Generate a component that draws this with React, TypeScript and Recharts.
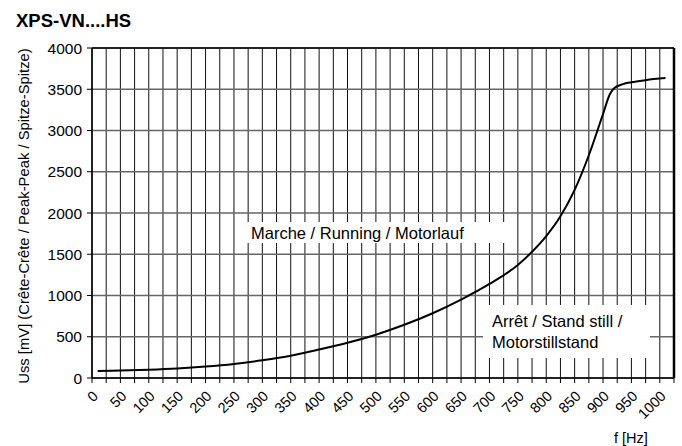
import React from 'react'
import { LineChart, Line, XAxis, YAxis, CartesianGrid, ReferenceLine } from 'recharts'

// frequency [Hz] and peak-peak voltage [mV]
const freq = [10, 50, 100, 150, 200, 250, 300, 350, 400, 450, 500, 550, 600, 650, 700, 750, 775, 800, 825, 850, 875, 900, 912, 920, 935, 950, 975, 1010]
const uss = [85, 90, 100, 115, 138, 170, 215, 270, 345, 428, 525, 645, 785, 950, 1140, 1370, 1530, 1720, 1960, 2280, 2700, 3200, 3440, 3515, 3562, 3585, 3610, 3635]

const xTicks = [
  0, 25, 50, 75, 100, 125, 150, 175, 200, 225, 250, 275, 300, 325, 350, 375, 400, 425, 450, 475, 500,
  525, 550, 575, 600, 625, 650, 675, 700, 725, 750, 775, 800, 825, 850, 875, 900, 925, 950, 975, 1000, 1025,
]
const xLabels = [0, 50, 100, 150, 200, 250, 300, 350, 400, 450, 500, 550, 600, 650, 700, 750, 800, 850, 900, 950, 1000]
const yTicks = [0, 500, 1000, 1500, 2000, 2500, 3000, 3500, 4000]

const data = freq.map((f, i) => ({ f, uss: uss[i] }))

const font = '"Liberation Sans", Arial, Helvetica, sans-serif'

function XTick(props: any) {
  const { x, y, payload } = props
  if (!xLabels.includes(payload.value)) return <g />
  const ax = x + 7
  const ay = y + 12
  return (
    <text x={ax} y={ay} textAnchor="end" transform={`rotate(-45 ${ax} ${ay})`} fontSize={14.5} fill="#000" fontFamily={font}>
      {payload.value}
    </text>
  )
}

export default function App() {
  return (
    <div style={{ position: 'absolute', left: 0, top: 0, width: 682, height: 446, background: '#fff', fontFamily: font }}>
      <LineChart width={682} height={446} data={data} margin={{ top: 48, right: 8, left: 0, bottom: 0 }}>
        <CartesianGrid horizontal={false} stroke="#111" strokeWidth={1} />
        <CartesianGrid vertical={false} stroke="#666" strokeWidth={1.5} />
        <XAxis
          dataKey="f"
          type="number"
          domain={[0, 1025]}
          ticks={xTicks}
          interval={0}
          height={68}
          tick={<XTick />}
          tickSize={5}
          tickLine={{ stroke: '#000' }}
          axisLine={{ stroke: '#000', strokeWidth: 1.5 }}
        />
        <YAxis
          type="number"
          domain={[0, 4000]}
          ticks={yTicks}
          interval={0}
          width={92}
          tickSize={5}
          tickMargin={5}
          tick={{ fill: '#000', fontSize: 15.5, fontFamily: font }}
          tickLine={{ stroke: '#000' }}
          axisLine={{ stroke: '#000', strokeWidth: 1.5 }}
        />
        <ReferenceLine y={4000} stroke="#000" strokeWidth={1.5} />
        <ReferenceLine x={1025} stroke="#000" strokeWidth={2.5} />
        <Line type="monotone" dataKey="uss" stroke="#000" strokeWidth={2} dot={false} isAnimationActive={false} />
      </LineChart>
      <svg width={682} height={446} style={{ position: 'absolute', left: 0, top: 0, pointerEvents: 'none' }} fontFamily={font}>
        <text x={16} y={27} fontSize={18.5} fontWeight="bold" fill="#000">XPS-VN....HS</text>
        <text x={24} y={216} fontSize={14.8} fill="#000" textAnchor="middle" dominantBaseline="central" transform="rotate(-90 24 216)">
          Uss [mV] (Crête-Crête / Peak-Peak / Spitze-Spitze)
        </text>
        <text x={614} y={443} fontSize={14.5} fill="#000">f [Hz]</text>
        <rect x={247} y={222} width={258} height={21} fill="#fff" />
        <text x={251} y={239} fontSize={16.5} fill="#000">Marche / Running / Motorlauf</text>
        <rect x={483} y={305} width={167} height={53} fill="#fff" />
        <text x={492} y={327} fontSize={16.5} fill="#000">Arrêt / Stand still /</text>
        <text x={492} y={348} fontSize={16.5} fill="#000">Motorstillstand</text>
      </svg>
    </div>
  )
}
